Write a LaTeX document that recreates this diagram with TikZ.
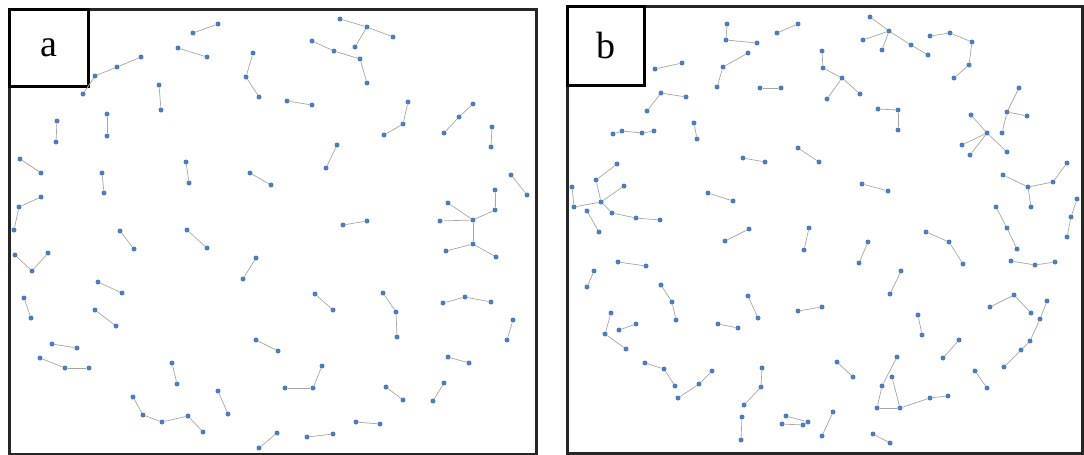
\documentclass[tikz,border=0pt]{standalone}
\usepackage{fontspec}
\setmainfont{Liberation Serif}
\definecolor{nodeblue}{RGB}{78,124,186}
\definecolor{edgegray}{RGB}{170,165,160}
\usetikzlibrary{positioning, backgrounds}

\begin{document}
\begin{tikzpicture}[
        x=1pt, y=-1pt,
        dot/.style={circle, fill=nodeblue, inner sep=0pt, minimum size=5pt},
        link/.style={draw=edgegray, line width=0.7pt},
        panel/.style={rectangle, draw=black!85, line width=2.6pt, anchor=north west, inner sep=0pt},
        tag/.style={rectangle, draw=black, line width=3pt, fill=white, anchor=north west, inner sep=0pt, font=\fontsize{38}{40}\selectfont}
    ]
        \useasboundingbox (0,0) rectangle (1084,455);

        % frames and tags
        \node[panel, minimum width=527pt, minimum height=445pt] (framea) at (8,8) {};
        \node[panel, minimum width=515pt, minimum height=447pt] (frameb) at (566,5) {};
        \node[tag, minimum width=79pt, minimum height=77pt] (taga) at (8,8) {a};
        \node[tag, minimum width=77pt, minimum height=79pt] (tagb) at (566,5) {b};

        % panel a: nodes
        \foreach \n/\x/\y in {a1/83/94, a2/95/76, a3/117/67, a4/141/57, a5/178/48, a6/207/57,
            a7/159/85, a8/161/110, a9/57/121, a10/56/142, a11/107/114, a12/107/136,
            a13/20/159, a14/41/173, a15/41/197, a16/19/207, a17/14/230, a18/102/173, a19/104/193,
            a20/186/162, a21/189/183, a22/120/231, a23/134/249, a24/218/24, a25/193/33,
            a26/253/53, a27/246/77, a28/259/97, a29/287/101, a30/312/105,
            a31/340/19, a32/367/27, a33/393/37, a34/355/47,
            a35/312/41, a36/334/51, a37/360/59, a38/367/83, a39/337/145, a40/326/168,
            a41/250/173, a42/271/185, a43/343/225, a44/367/221,
            a45/473/220, a46/440/221, a47/448/203, a48/495/210, a49/495/190, a50/473/244, a51/446/251, a52/496/257,
            a53/408/102, a54/403/124, a55/384/135, a56/473/104, a57/459/117, a58/444/133,
            a59/492/127, a60/491/147, a61/511/175, a62/527/195,
            a63/15/255, a64/32/271, a65/48/253, a66/98/282, a67/122/293, a68/24/298, a69/31/318,
            a70/95/310, a71/116/326, a72/52/344, a73/77/348, a74/40/358, a75/65/368, a76/89/368,
            a77/172/363, a78/177/384, a79/133/397, a80/143/415, a81/162/422, a82/188/416, a83/203/432,
            a84/187/230, a85/207/248, a86/256/258, a87/243/279, a88/315/294, a89/333/310,
            a90/256/340, a91/278/351, a92/322/366, a93/313/388, a94/285/388, a95/218/391, a96/228/414,
            a97/277/433, a98/259/448, a99/307/437, a100/333/434, a101/356/422, a102/380/424,
            a103/383/293, a104/396/312, a105/397/337, a106/443/303, a107/465/297, a108/491/302,
            a109/513/320, a110/507/340, a111/448/357, a112/469/363, a113/386/387, a114/403/400,
            a115/444/383, a116/433/401}
            \node[dot] (\n) at (\x,\y) {};

        % panel a: links
        \foreach \u/\v in {a1/a2, a2/a3, a3/a4, a5/a6, a7/a8, a9/a10, a11/a12, a13/a14, a15/a16, a16/a17,
            a18/a19, a20/a21, a22/a23, a24/a25, a26/a27, a27/a28, a29/a30, a31/a32, a32/a33, a32/a34,
            a35/a36, a36/a37, a37/a38, a39/a40, a41/a42, a43/a44,
            a45/a46, a45/a47, a45/a48, a48/a49, a45/a50, a50/a51, a50/a52,
            a53/a54, a54/a55, a56/a57, a57/a58, a59/a60, a61/a62, a63/a64, a64/a65, a66/a67, a68/a69,
            a70/a71, a72/a73, a74/a75, a75/a76, a77/a78, a79/a80, a80/a81, a81/a82, a82/a83,
            a84/a85, a86/a87, a88/a89, a90/a91, a92/a93, a93/a94, a95/a96, a97/a98, a99/a100, a101/a102,
            a103/a104, a104/a105, a106/a107, a107/a108, a109/a110, a111/a112, a113/a114, a115/a116}
            \draw[link] (\u) -- (\v);

        % panel b: nodes
        \foreach \n/\x/\y in {b1/727/24, b2/726/40, b3/757/43, b4/748/53, b5/723/67, b6/717/87,
            b7/655/69, b8/682/63, b9/686/97, b10/661/93, b11/647/111,
            b12/613/134, b13/622/131, b14/642/133, b15/654/131, b16/694/123, b17/697/139,
            b18/617/164, b19/596/180, b20/572/187, b21/574/207, b22/601/202, b23/624/186,
            b24/587/211, b25/612/213, b26/636/218, b27/660/220, b28/599/232,
            b29/708/193, b30/733/201, b31/798/24, b32/777/33,
            b33/870/17, b34/889/31, b35/863/40, b36/882/50, b37/911/45, b38/928/55,
            b39/822/51, b40/823/68, b41/842/78, b42/860/94, b43/827/99, b44/760/88, b45/781/88,
            b46/878/109, b47/898/110, b48/898/130, b49/743/158, b50/765/162, b51/798/148, b52/819/162,
            b53/862/184, b54/888/191, b55/725/241, b56/749/229, b57/809/228, b58/804/250,
            b59/930/36, b60/950/33, b61/972/42, b62/969/65, b63/954/78,
            b64/1007/112, b65/1019/88, b66/1027/116, b67/1002/133,
            b68/987/133, b69/971/115, b70/962/145, b71/970/155, b72/1007/152,
            b73/1003/175, b74/1028/187, b75/1053/182, b76/1067/163, b77/1031/207,
            b78/996/207, b79/1007/228, b80/1017/249, b81/1077/199, b82/1071/217, b83/1067/237,
            b84/618/262, b85/646/266, b86/594/271, b87/587/287, b88/661/285, b89/672/302, b90/676/320,
            b91/611/313, b92/605/334, b93/626/349, b94/619/330, b95/636/324,
            b96/645/363, b97/664/369, b98/675/386, b99/712/371, b100/699/384, b101/678/398,
            b102/718/324, b103/738/328, b104/868/242, b105/859/263, b106/901/271, b107/890/294,
            b108/748/296, b109/758/318, b110/798/311, b111/822/307, b112/837/362, b113/853/377,
            b114/762/368, b115/761/387, b116/744/405, b117/742/417, b118/741/440,
            b119/786/416, b120/808/422, b121/782/424, b122/803/425, b123/833/412, b124/822/436,
            b125/897/357, b126/892/377, b127/882/386, b128/877/408, b129/900/408, b130/930/398, b131/948/396,
            b132/873/434, b133/890/443, b134/926/232, b135/949/242, b136/963/264,
            b137/1011/261, b138/1035/265, b139/1055/262, b140/990/307, b141/1014/295, b142/1031/313,
            b143/1047/301, b144/1040/319, b145/1030/341, b146/1021/350, b147/1004/367,
            b148/918/315, b149/922/335, b150/959/340, b151/943/358, b152/975/371, b153/987/388}
            \node[dot] (\n) at (\x,\y) {};

        % panel b: links
        \foreach \u/\v in {b1/b2, b2/b3, b4/b5, b5/b6, b7/b8, b9/b10, b10/b11, b12/b13, b13/b14, b14/b15, b16/b17,
            b18/b19, b19/b22, b20/b21, b21/b22, b22/b23, b22/b25, b25/b26, b26/b27, b24/b28,
            b29/b30, b31/b32, b33/b34, b34/b35, b34/b36, b34/b37, b37/b38,
            b39/b40, b40/b41, b41/b42, b41/b43, b44/b45, b46/b47, b47/b48, b49/b50, b51/b52, b53/b54,
            b55/b56, b57/b58, b59/b60, b60/b61, b61/b62, b62/b63, b64/b65, b64/b66, b64/b67,
            b68/b69, b68/b70, b68/b71, b68/b72, b73/b74, b74/b75, b75/b76, b74/b77, b78/b79, b79/b80,
            b81/b82, b82/b83, b84/b85, b86/b87, b88/b89, b89/b90, b91/b92, b92/b93, b94/b95,
            b96/b97, b97/b98, b99/b100, b100/b101, b102/b103, b104/b105, b106/b107, b108/b109, b110/b111,
            b112/b113, b114/b115, b115/b116, b117/b118, b119/b120, b121/b122, b120/b122, b123/b124,
            b125/b127, b127/b128, b126/b129, b128/b129, b129/b130, b130/b131, b132/b133,
            b134/b135, b135/b136, b137/b138, b138/b139, b140/b141, b141/b142,
            b143/b144, b144/b145, b145/b146, b146/b147, b148/b149, b150/b151, b152/b153}
            \draw[link] (\u) -- (\v);
    \end{tikzpicture}
\end{document}
